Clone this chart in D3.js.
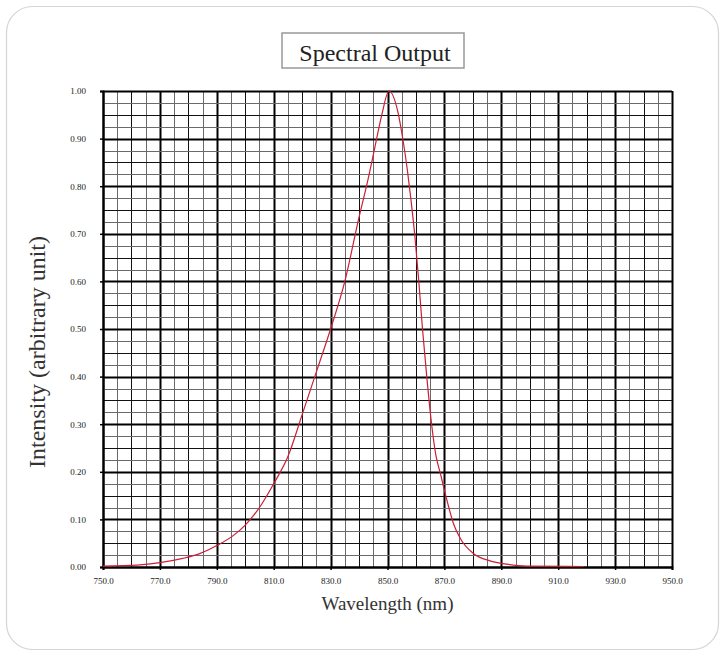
<!DOCTYPE html>
<html>
<head>
<meta charset="utf-8">
<script src="https://cdn.jsdelivr.net/npm/d3@7"></script>
<style>
  html, body { margin: 0; padding: 0; background: #fff; }
  svg { display: block; }
  text { font-family: "Liberation Serif", "Times New Roman", serif; fill: #222; }
</style>
</head>
<body>
<div id="chart"></div>
<script>
// ── Données ───────────────────────────────────────────────────────────────
const wavelengths = [750, 762, 770, 778, 784, 790, 796, 800, 805, 810, 815, 820, 825, 830, 835, 840,
                     843, 845.5, 848, 850.5, 853.5, 855.5, 857, 858.2, 859.7, 861, 862.3, 863.8, 865.5,
                     867, 868.6, 870.9, 873.2, 875.6, 880.3, 886, 892, 899, 919];
const intensity   = [0.002, 0.004, 0.009, 0.018, 0.028, 0.045, 0.067, 0.088, 0.125, 0.175, 0.232,
                     0.32, 0.41, 0.50, 0.60, 0.735, 0.81, 0.88, 0.95, 1.0, 0.96, 0.895, 0.833, 0.774,
                     0.69, 0.60, 0.50, 0.40, 0.30, 0.235, 0.196, 0.14, 0.091, 0.06, 0.028, 0.013,
                     0.006, 0.002, 0.001];
const xTicks = [750, 770, 790, 810, 830, 850, 870, 890, 910, 930, 950];
const yTicks = [0, 0.1, 0.2, 0.3, 0.4, 0.5, 0.6, 0.7, 0.8, 0.9, 1.0];

const W = 725, H = 656;
const plot = { left: 103, right: 672, top: 91, bottom: 567 };

const svg = d3.select('#chart').append('svg').attr('width', W).attr('height', H);

// Cadre arrondi extérieur
svg.append('rect')
  .attr('x', 6.5).attr('y', 6.5).attr('width', 712).attr('height', 643)
  .attr('rx', 26).attr('fill', '#fff').attr('stroke', '#d4d4d4').attr('stroke-width', 1.2);

const x = d3.scaleLinear().domain([750, 950]).range([plot.left, plot.right]);
const y = d3.scaleLinear().domain([0, 1]).range([plot.bottom, plot.top]);

// ── Grille ────────────────────────────────────────────────────────────────
const grid = svg.append('g');
const vLines = d3.range(750, 950.1, 5);
const hLines = d3.range(0, 1.0001, 0.025);

function lineStyle(isMajor, isMid) {
  if (isMajor) return { c: '#000', w: 2 };
  if (isMid) return { c: '#111', w: 1 };
  return { c: '#6a6a6a', w: 1 };
}

grid.selectAll('line.v').data(vLines).join('line')
  .attr('x1', d => Math.round(x(d)) + 0.5).attr('x2', d => Math.round(x(d)) + 0.5)
  .attr('y1', plot.top).attr('y2', plot.bottom)
  .each(function (d) {
    const k = Math.round(d - 750);
    const s = lineStyle(k % 20 === 0, k % 10 === 0);
    d3.select(this).attr('stroke', s.c).attr('stroke-width', s.w);
  });

grid.selectAll('line.h').data(hLines).join('line')
  .attr('y1', d => Math.round(y(d)) + 0.5).attr('y2', d => Math.round(y(d)) + 0.5)
  .attr('x1', plot.left).attr('x2', plot.right)
  .each(function (d) {
    const k = Math.round(d * 1000);
    const s = lineStyle(k % 100 === 0, k % 50 === 0);
    d3.select(this).attr('stroke', s.c).attr('stroke-width', s.w);
  });

// ── Axes ──────────────────────────────────────────────────────────────────
const xAxis = d3.axisBottom(x).tickValues(xTicks).tickSize(3).tickPadding(8)
  .tickFormat(d3.format('.1f'));
const gx = svg.append('g').attr('transform', `translate(0,${plot.bottom})`).call(xAxis);
gx.select('.domain').attr('stroke', '#000').attr('stroke-width', 2);
gx.selectAll('.tick line').attr('stroke', '#000').attr('stroke-width', 1.5);
gx.selectAll('text').style('font-size', '9px').style('fill', '#222');

const yAxis = d3.axisLeft(y).tickValues(yTicks).tickSize(3).tickPadding(14)
  .tickFormat(d3.format('.2f'));
const gy = svg.append('g').attr('transform', `translate(${plot.left},0)`).call(yAxis);
gy.select('.domain').attr('stroke', '#000').attr('stroke-width', 2);
gy.selectAll('.tick line').attr('stroke', '#000').attr('stroke-width', 1.5);
gy.selectAll('text').style('font-size', '9px').style('fill', '#222');

// ── Courbe ────────────────────────────────────────────────────────────────
const pts = wavelengths.map((w, i) => [w, intensity[i]]);
svg.append('path')
  .datum(pts)
  .attr('fill', 'none')
  .attr('stroke', '#cc1f36')
  .attr('stroke-width', 1.2)
  .attr('d', d3.line().x(d => x(d[0])).y(d => y(d[1])).curve(d3.curveMonotoneX));

// ── Titre encadré ─────────────────────────────────────────────────────────
svg.append('rect')
  .attr('x', 282).attr('y', 33).attr('width', 182).attr('height', 35)
  .attr('fill', '#fff').attr('stroke', '#999').attr('stroke-width', 1.5);
svg.append('text')
  .attr('x', 375).attr('y', 61).attr('text-anchor', 'middle')
  .style('font-size', '24px').text('Spectral Output');

// Titres d'axes
svg.append('text')
  .attr('x', (plot.left + plot.right) / 2).attr('y', 610).attr('text-anchor', 'middle')
  .style('font-size', '19px').style('fill', '#333').text('Wavelength (nm)');
svg.append('text')
  .attr('transform', `translate(45,352) rotate(-90)`)
  .attr('text-anchor', 'middle')
  .style('font-size', '24px').style('fill', '#333').text('Intensity (arbitrary unit)');
</script>
</body>
</html>
